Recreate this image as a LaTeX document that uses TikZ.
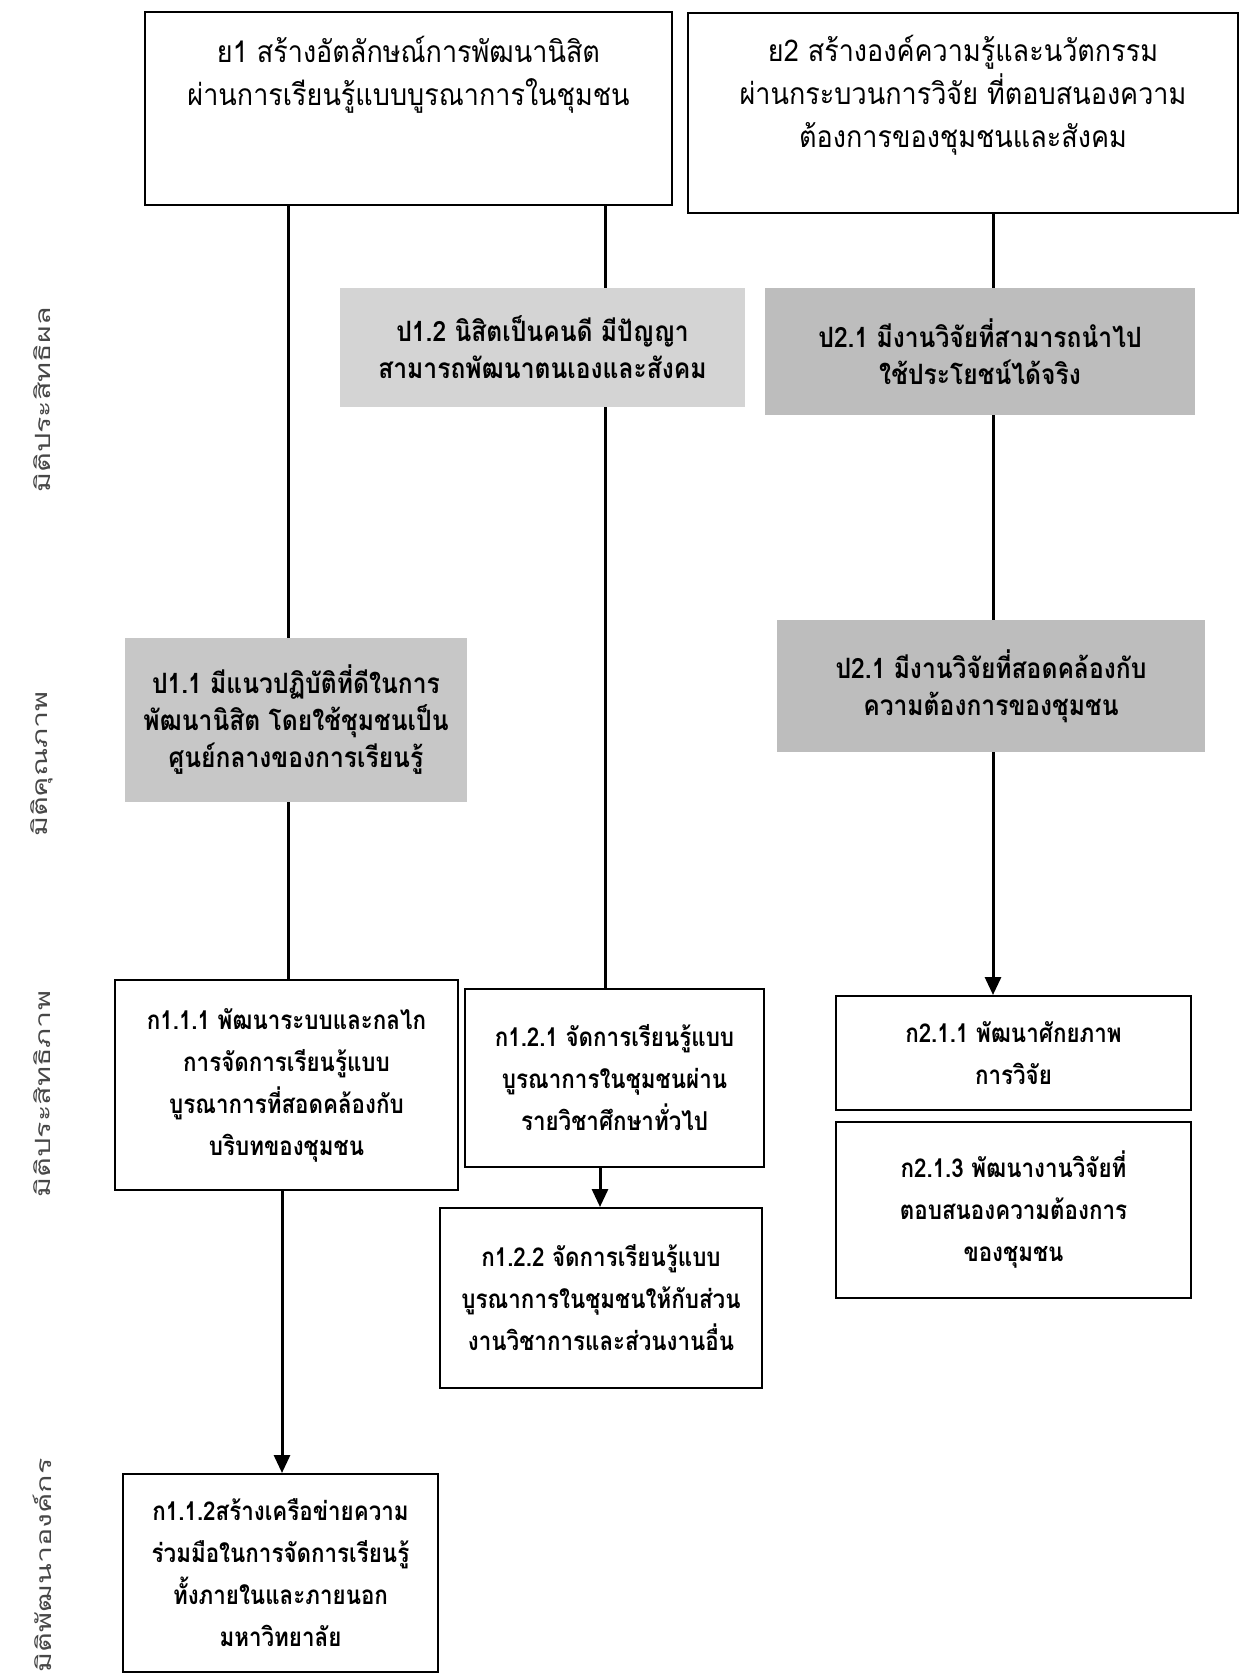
\documentclass[tikz,border=0pt]{standalone}
\usepackage{fontspec}
\setmainfont[Script=Thai]{Loma}
\newfontfamily\thaiTop[Script=Thai,FakeStretch=0.9]{Loma}
\newfontfamily\thaiBox[Script=Thai,FakeStretch=0.86]{Loma}
\newfontfamily\thaiShade[Script=Thai,FakeStretch=0.88]{Loma}
\newfontfamily\thaiLabel[Script=Thai,FakeStretch=1.45]{Loma}
\usetikzlibrary{arrows.meta}
\begin{document}
\begin{tikzpicture}[x=0.5pt,y=-0.5pt,
  sz/.style 2 args={minimum width=#1*0.5pt, minimum height=#2*0.5pt},
  topbox/.style={draw, line width=1pt, inner sep=0pt,
     font=\thaiTop\fontsize{15}{21.5}\selectfont},
  box/.style={draw, line width=1pt, fill=white, inner sep=0pt, align=center,
     font=\thaiBox\bfseries\fontsize{13}{21}\selectfont},
  shadebox/.style={inner sep=0pt, align=center,
     font=\thaiShade\bfseries\fontsize{14}{18.5}\selectfont},
  dimlabel/.style={rotate=90, inner sep=0pt, text=black!72,
     font=\thaiLabel\fontsize{10.5}{12}\selectfont},
  conn/.style={line width=1.5pt},
  arr/.style={conn, -{Triangle[length=9pt,width=8pt]}}]
\useasboundingbox (0,0) rectangle (1243,1677);
\fill[white] (0,0) rectangle (1243,1677);

% column coordinates
\coordinate (colA) at (288,0);
\coordinate (colAb) at (282,0);
\coordinate (colB) at (605,0);
\coordinate (colBb) at (600,0);
\coordinate (colC) at (993,0);

% dimension labels
\node[dimlabel] (d1) at (42,400) {มิติประสิทธิผล};
\node[dimlabel] (d2) at (42,764) {มิติคุณภาพ};
\node[dimlabel] (d3) at (42,1094) {มิติประสิทธิภาพ};
\node[dimlabel, anchor=east] (d4) at (42,1458) {มิติพัฒนาองค์กร};

% top strategy boxes
\node[topbox, sz={527}{193}] (y1) at (408.5,108.5)
  {\parbox[c][96.5pt][t]{255pt}{\centering\vspace*{12pt}%
   ย1 สร้างอัตลักษณ์การพัฒนานิสิต\\ผ่านการเรียนรู้แบบบูรณาการในชุมชน}};
\node[topbox, sz={550}{200}] (y2) at (963,113)
  {\parbox[c][100pt][t]{270pt}{\centering\vspace*{11pt}%
   ย2 สร้างองค์ความรู้และนวัตกรรม\\ผ่านกระบวนการวิจัย ที่ตอบสนองความ\\ต้องการของชุมชนและสังคม}};

% shaded goal boxes
\node[shadebox, fill=black!17, sz={405}{119}] (p12) at (542.5,347.5)
  {ป1.2 นิสิตเป็นคนดี มีปัญญา\\สามารถพัฒนาตนเองและสังคม};
\node[shadebox, fill=black!26, sz={430}{127}] (p21) at (980,351.5)
  {ป2.1 มีงานวิจัยที่สามารถนำไป\\ใช้ประโยชน์ได้จริง};
\node[shadebox, fill=black!22, sz={342}{164}] (p11) at (296,720)
  {ป1.1 มีแนวปฏิบัติที่ดีในการ\\พัฒนานิสิต โดยใช้ชุมชนเป็น\\ศูนย์กลางของการเรียนรู้};
\node[shadebox, fill=black!26, sz={428}{132}] (p21b) at (991,686)
  {ป2.1 มีงานวิจัยที่สอดคล้องกับ\\ความต้องการของชุมชน};

% action boxes
\node[box, sz={343}{210}] (k111) at (286.5,1085)
  {ก1.1.1 พัฒนาระบบและกลไก\\การจัดการเรียนรู้แบบ\\บูรณาการที่สอดคล้องกับ\\บริบทของชุมชน};
\node[box, sz={299}{178}] (k121) at (614.5,1078)
  {ก1.2.1 จัดการเรียนรู้แบบ\\บูรณาการในชุมชนผ่าน\\รายวิชาศึกษาทั่วไป};
\node[box, sz={322}{180}] (k122) at (601,1298)
  {ก1.2.2 จัดการเรียนรู้แบบ\\บูรณาการในชุมชนให้กับส่วน\\งานวิชาการและส่วนงานอื่น};
\node[box, sz={355}{114}] (k211) at (1013.5,1053)
  {ก2.1.1 พัฒนาศักยภาพ\\การวิจัย};
\node[box, sz={355}{176}] (k213) at (1013.5,1210)
  {ก2.1.3 พัฒนางานวิจัยที่\\ตอบสนองความต้องการ\\ของชุมชน};
\node[box, sz={315}{198}] (k112) at (280.5,1573)
  {ก1.1.2สร้างเครือข่ายความ\\ร่วมมือในการจัดการเรียนรู้\\ทั้งภายในและภายนอก\\มหาวิทยาลัย};

% connectors
\draw[conn] (y1.south -| colA) -- (p11.north -| colA);
\draw[conn] (p11.south -| colA) -- (k111.north -| colA);
\draw[arr]  (k111.south -| colAb) -- (k112.north -| colAb);

\draw[conn] (y1.south -| colB) -- (p12.north -| colB);
\draw[conn] (p12.south -| colB) -- (k121.north -| colB);
\draw[arr]  (k121.south -| colBb) -- (k122.north -| colBb);

\draw[conn] (y2.south -| colC) -- (p21.north -| colC);
\draw[conn] (p21.south -| colC) -- (p21b.north -| colC);
\draw[arr]  (p21b.south -| colC) -- (k211.north -| colC);
\end{tikzpicture}
\end{document}
